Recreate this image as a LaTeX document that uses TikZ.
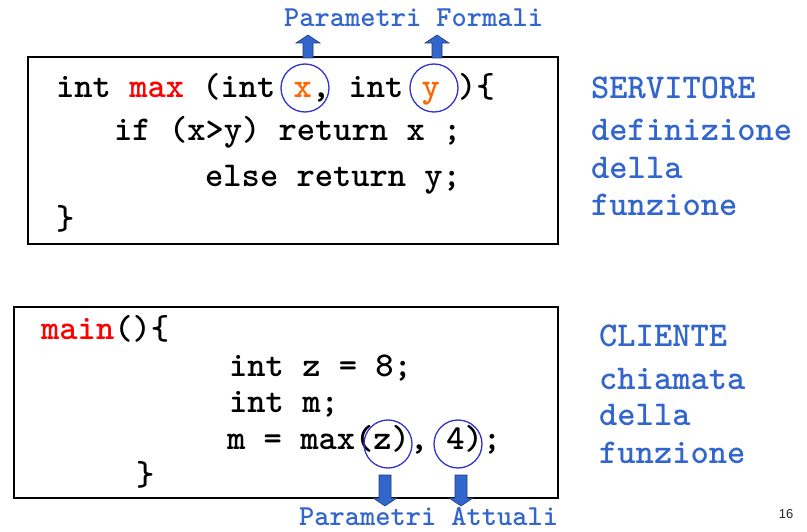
\documentclass[tikz,border=0pt]{standalone}
\usepackage{fontspec}
\newfontfamily\csans{Liberation Sans}
\newcommand\codefont{\ttfamily\bfseries\fontsize{34.8pt}{40pt}\selectfont}
\newcommand\labfont{\ttfamily\bfseries\fontsize{34.8pt}{40pt}\selectfont}
\newcommand\smallfont{\ttfamily\bfseries\fontsize{29pt}{34pt}\selectfont}
\definecolor{lblue}{HTML}{3366CC}
\definecolor{ablue}{HTML}{3366CC}
\definecolor{adark}{HTML}{1F3A78}
\definecolor{ringblue}{HTML}{3333CC}
\definecolor{corange}{HTML}{FF6600}
\definecolor{cred}{HTML}{FF0000}
\tikzset{
  code/.style={anchor=base west, inner sep=0pt, font=\codefont, text=black},
  lab/.style={anchor=base west, inner sep=0pt, font=\labfont, text=lblue},
  plab/.style={anchor=base west, inner sep=0pt, font=\smallfont, text=lblue},
  ring/.style={circle, draw=ringblue, line width=1.3pt, minimum size=48pt, inner sep=0pt},
  codebox/.style={draw=black, line width=1.6pt, inner sep=0pt, anchor=north west},
  blockarrow/.style={fill=ablue, draw=adark, line width=0.6pt},
  pics/uparr/.style={code={\draw[blockarrow] (-5,0) -- (-5,-15) -- (-12,-15) -- (0,-23) -- (12,-15) -- (5,-15) -- (5,0) -- cycle;}},
  pics/downarr/.style={code={\draw[blockarrow] (-6,0) -- (-6,23) -- (-12,23) -- (0,31) -- (12,23) -- (6,23) -- (6,0) -- cycle;}},
}
\begin{document}
\begin{tikzpicture}[x=1pt,y=-1pt]
\useasboundingbox (0,0) rectangle (807,532);
% server box
\node[codebox, minimum width=530pt, minimum height=187pt] (srv) at (27,56) {};
\node[code] (l1) at (56,98) {int {\color{cred}max} (int {\color{corange}x}, int {\color{corange}y} )\{};
\node[code] (l2) at (114,141) {if (x>y) return x ;};
\node[code] (l3) at (205,187) {else return y;};
\node[code] (l4) at (56,230) {\}};
\node[ring] (cx) at (305,88) {};
\node[ring] (cy) at (434,88) {};
\node[plab] (pf) at (284,27) {Parametri Formali};
\coordinate (ax) at (308,58);
\coordinate (ay) at (437,58);
\pic at (ax) {uparr};
\pic at (ay) {uparr};
% server labels
\node[lab] (s1) at (591,99) {SERVITORE};
\node[lab] (s2) at (591,141) {definizione};
\node[lab] (s3) at (591,179) {della};
\node[lab] (s4) at (591,216) {funzione};
% client box
\node[codebox, minimum width=544pt, minimum height=191pt] (cli) at (13,306) {};
\node[code] (m1) at (41,339) {{\color{cred}main}()\{};
\node[code] (m2) at (229,376) {int z = 8;};
\node[code] (m3) at (229,412) {int m;};
\node[code] (m4) at (227,449) {m = max(z), 4);};
\node[code] (m5) at (136,485) {\}};
\node[ring] (cz) at (388,444) {};
\node[ring] (c4) at (458,444) {};
\coordinate (az) at (385,475);
\coordinate (a4) at (461,475);
\pic at (az) {downarr};
\pic at (a4) {downarr};
\node[plab] (pa) at (299,525) {Parametri Attuali};
% client labels
\node[lab] (c1) at (599,346) {CLIENTE};
\node[lab] (c2) at (599,389) {chiamata};
\node[lab] (c3) at (599,425) {della};
\node[lab] (c5) at (599,463) {funzione};
\node[font=\csans\fontsize{13pt}{15pt}\selectfont, text=black!85, inner sep=0pt] (pg) at (786,514) {16};
\end{tikzpicture}
\end{document}
